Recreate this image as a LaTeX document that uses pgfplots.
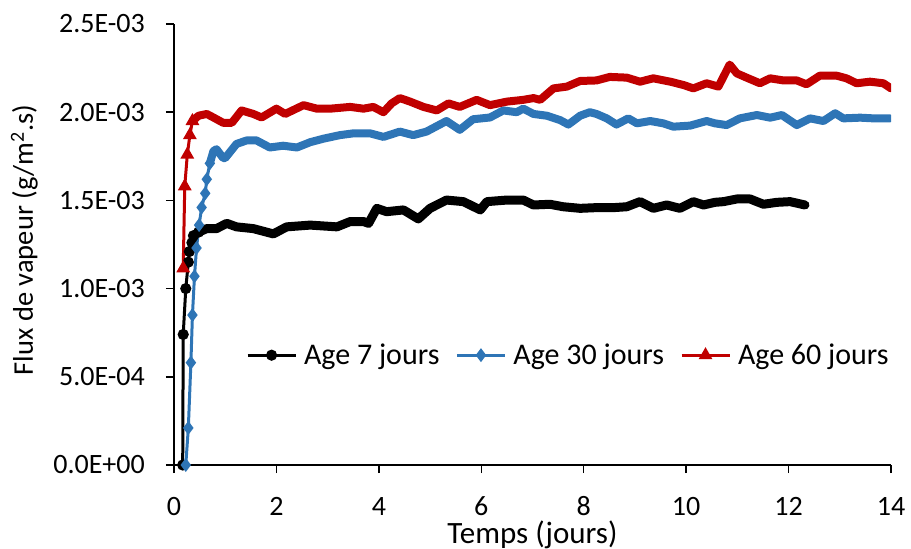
\documentclass[border=0pt]{standalone}
\usepackage{fontspec}
\setmainfont{Carlito}
\usepackage{pgfplots}
\pgfplotsset{compat=1.18}
\definecolor{cblue}{HTML}{2E75B6}
\definecolor{cred}{HTML}{C00000}
\begin{document}
\begin{tikzpicture}
\useasboundingbox (-174pt,-84pt) rectangle (737pt,465pt);
\begin{axis}[
  at={(0pt,0pt)}, anchor=south west,
  scale only axis, width=717pt, height=441pt,
  xmin=0, xmax=14, ymin=0, ymax=0.0025,
  axis x line*=bottom, axis y line*=left,
  axis line style={line width=1.5pt, black},
  tick style={line width=1.5pt, black},
  tick align=outside, major tick length=8pt,
  xtick={0,2,4,6,8,10,12,14},
  xticklabels={0,2,4,6,8,10,12,14},
  ytick={0,0.0005,0.001,0.0015,0.002,0.0025},
  yticklabels={0.0E+00,5.0E-04,1.0E-03,1.5E-03,2.0E-03,2.5E-03},
  scaled y ticks=false, scaled x ticks=false,
  /pgf/number format/assume math mode=true,
  xticklabel style={font=\fontsize{28}{33}\selectfont, anchor=base, inner sep=0pt, yshift=-42pt},
  yticklabel style={font=\fontsize{28}{33}\selectfont, anchor=east, inner sep=0pt, xshift=-21pt},
  xlabel={Temps (jours)},
  ylabel={Flux de vapeur (g/m\textsuperscript{2}.s)},
  xlabel style={font=\fontsize{31}{37}\selectfont, at={(axis description cs:0.5,-0.1769)}, anchor=base, inner sep=0pt},
  ylabel style={font=\fontsize{28.5}{34}\selectfont, at={(axis description cs:-0.1967,0.51)}, anchor=base, inner sep=0pt},
  legend style={at={(0.55,0.249)}, anchor=center, draw=none, fill=none,
    legend columns=3, font=\fontsize{30}{36}\selectfont,
    /tikz/every odd column/.append style={column sep=5pt},
    /tikz/every even column/.append style={column sep=14pt}},
  legend image code/.code={
    \draw[#1] (0pt,0pt) -- (48pt,0pt);
    \draw[#1, draw=none] plot coordinates {(24pt,0pt)};
  },
]
% Age 7 jours
\addplot[black, line width=3pt, mark=*, mark size=4pt, mark options={solid, fill=black}]
coordinates {
(0.17,0) (0.18,0.00074) (0.23,0.00100) (0.28,0.00115) (0.30,0.00121)
(0.35,0.00126) (0.38,0.00130) (0.48,0.00132)
};
\addlegendentry{Age 7 jours}
\addplot[black, line width=9pt, line join=round, line cap=round, forget plot]
coordinates {
(0.48,0.00132) (0.64,0.00134) (0.83,0.00134) (1.03,0.00137) (1.22,0.00135)
(1.55,0.00134) (1.94,0.00131) (2.20,0.00135) (2.66,0.00136) (3.18,0.00135)
(3.44,0.00138) (3.70,0.00138) (3.80,0.00137) (3.96,0.001455) (4.15,0.001436)
(4.48,0.001446) (4.77,0.001395) (5.00,0.001455) (5.32,0.001502) (5.65,0.001493)
(5.98,0.001446) (6.11,0.001493) (6.50,0.001502) (6.82,0.001502) (7.02,0.001474)
(7.34,0.001478) (7.60,0.001464) (7.93,0.001455) (8.25,0.001459) (8.58,0.001459)
(8.84,0.001464) (9.10,0.001493) (9.36,0.001455) (9.62,0.001474) (9.88,0.001455)
(10.14,0.001493) (10.34,0.001474) (10.56,0.001489) (10.73,0.001493) (10.99,0.001508)
(11.25,0.001508) (11.51,0.001478) (11.77,0.001489) (12.03,0.001493) (12.32,0.001474)
};
% Age 30 jours
\addplot[cblue, line width=3pt, mark=diamond*, mark size=4.5pt, mark options={solid, fill=cblue}]
coordinates {
(0.23,0) (0.28,0.00021) (0.33,0.00058) (0.36,0.00085) (0.40,0.00107)
(0.44,0.00123) (0.49,0.00136) (0.54,0.00146) (0.61,0.00154) (0.64,0.00162)
(0.70,0.00171)
};
\addlegendentry{Age 30 jours}
\addplot[cblue, line width=8pt, line join=round, line cap=round, forget plot]
coordinates {
(0.70,0.00171) (0.77,0.00178) (0.83,0.00179) (0.96,0.00174) (1.00,0.00174)
(1.22,0.00182) (1.42,0.00184) (1.61,0.00184) (1.87,0.00180) (2.13,0.00181)
(2.40,0.00180) (2.66,0.00183) (2.92,0.00185) (3.24,0.00187) (3.50,0.00188)
(3.83,0.00188) (4.09,0.00186) (4.41,0.00189) (4.67,0.00187) (4.93,0.00189)
(5.32,0.00195) (5.58,0.00190) (5.84,0.00196) (6.17,0.00197) (6.43,0.00201)
(6.69,0.00200) (6.82,0.00202) (7.02,0.00199) (7.28,0.00198) (7.54,0.001955)
(7.70,0.00193) (7.93,0.00198) (8.12,0.00200) (8.25,0.00199) (8.45,0.001965)
(8.64,0.00193) (8.87,0.001965) (9.04,0.001937) (9.30,0.00195) (9.55,0.001937)
(9.75,0.001918) (10.08,0.001924) (10.40,0.00195) (10.56,0.001937) (10.79,0.001927)
(11.05,0.001965) (11.38,0.001984) (11.64,0.001969) (11.87,0.001984) (12.16,0.001927)
(12.42,0.001965) (12.68,0.00195) (12.91,0.001994) (13.07,0.001965) (13.40,0.001969)
(13.66,0.001965) (13.98,0.001965)
};
% Age 60 jours
\addplot[cred, line width=3pt, mark=triangle*, mark size=5pt, mark options={solid, fill=cred}]
coordinates {
(0.18,0.001115) (0.21,0.00158) (0.26,0.00176) (0.31,0.00187) (0.36,0.00195)
};
\addlegendentry{Age 60 jours}
\addplot[cred, line width=8pt, line join=round, line cap=round, forget plot]
coordinates {
(0.36,0.00195) (0.48,0.00198) (0.64,0.00199) (0.77,0.00197) (0.96,0.00194)
(1.13,0.00194) (1.32,0.00201) (1.55,0.00199) (1.71,0.00197) (2.00,0.00202)
(2.17,0.00199) (2.53,0.00204) (2.79,0.00202) (3.05,0.00202) (3.44,0.00203)
(3.70,0.00202) (3.89,0.00203) (4.09,0.00200) (4.25,0.00205) (4.41,0.00208)
(4.61,0.00206) (4.87,0.00203) (5.13,0.00201) (5.36,0.00205) (5.58,0.00203)
(5.91,0.00207) (6.17,0.00204) (6.50,0.00206) (6.82,0.00207) (7.02,0.00208)
(7.15,0.00207) (7.41,0.002135) (7.67,0.002145) (7.93,0.002177) (8.25,0.00218)
(8.51,0.00220) (8.84,0.002196) (9.10,0.002173) (9.36,0.002192) (9.69,0.002173)
(9.95,0.002154) (10.14,0.002135) (10.40,0.002164) (10.63,0.002145) (10.85,0.00227)
(10.99,0.00222) (11.18,0.002196) (11.44,0.002164) (11.64,0.002192) (11.90,0.00218)
(12.16,0.00218) (12.35,0.002158) (12.61,0.002207) (12.94,0.002207) (13.13,0.002192)
(13.33,0.002164) (13.59,0.002173) (13.85,0.002164) (14.00,0.002135)
};
\end{axis}
\end{tikzpicture}
\end{document}
